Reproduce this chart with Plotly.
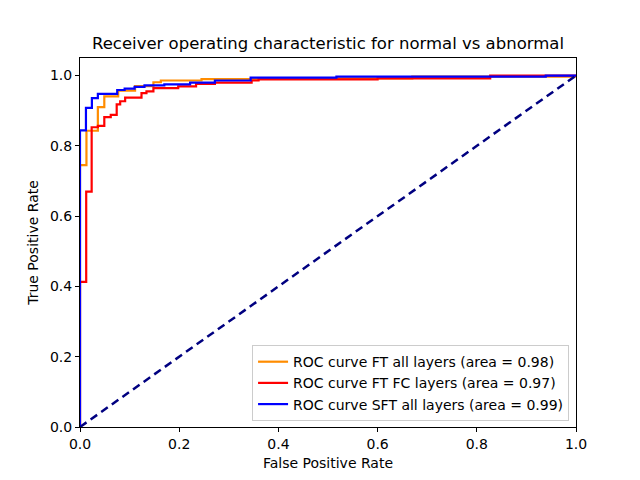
import plotly.graph_objects as go

# FT all layers (orange)
fpr_ft_all = [0, 0, 0.013, 0.036, 0.049, 0.077, 0.111, 0.148, 0.163, 0.245, 0.36, 0.67, 1.0]
tpr_ft_all = [0, 0.745, 0.843, 0.910, 0.941, 0.957, 0.970, 0.981, 0.986, 0.990, 0.992, 0.997, 1.0]

# FT FC layers (red)
fpr_ft_fc = [0, 0, 0.0125, 0.0235, 0.036, 0.049, 0.062, 0.074, 0.081, 0.091, 0.124, 0.134,
             0.148, 0.198, 0.234, 0.272, 0.346, 0.36, 0.6, 0.827, 1.0]
tpr_ft_fc = [0, 0.413, 0.670, 0.853, 0.857, 0.882, 0.888, 0.918, 0.927, 0.937, 0.950, 0.955,
             0.964, 0.969, 0.976, 0.980, 0.986, 0.989, 0.992, 1.0, 1.0]

# SFT all layers (blue)
fpr_sft = [0, 0, 0.012, 0.024, 0.036, 0.075, 0.09, 0.11, 0.13, 0.17, 0.222, 0.272, 0.344, 0.517, 0.939, 1.0]
tpr_sft = [0, 0.844, 0.908, 0.936, 0.948, 0.959, 0.963, 0.968, 0.972, 0.975, 0.980, 0.986, 0.994, 0.997, 1.0, 1.0]

diag = [0, 1]

series = [
    ("ROC curve FT all layers (area = 0.98)", fpr_ft_all, tpr_ft_all, "darkorange"),
    ("ROC curve FT FC layers (area = 0.97)", fpr_ft_fc, tpr_ft_fc, "red"),
    ("ROC curve SFT all layers (area = 0.99)", fpr_sft, tpr_sft, "blue"),
]

fig = go.Figure()
for name, xs, ys, col in series:
    fig.add_trace(go.Scatter(x=xs, y=ys, mode="lines", name=name,
                             line=dict(color=col, width=2.2, shape="hv")))
fig.add_trace(go.Scatter(x=diag, y=diag, mode="lines", showlegend=False,
                         line=dict(color="navy", width=2.5, dash="8px,5px")))

font = "DejaVu Sans"
axis_common = dict(showgrid=False, zeroline=False, showline=True, linecolor="black",
                   linewidth=1, mirror=True, ticks="outside", ticklen=4, tickcolor="black",
                   tickfont=dict(family=font, size=14, color="black"))

fig.update_layout(
    width=640, height=480,
    margin=dict(l=72, r=72, t=50, b=61),
    paper_bgcolor="white", plot_bgcolor="white",
    font=dict(family=font, color="black"),
    title=dict(text="Receiver operating characteristic for normal vs abnormal",
               x=0.5, xref="paper", y=1 - 35 / 480, yref="container", yanchor="middle",
               xanchor="center", font=dict(family=font, size=16.5, color="black")),
    xaxis=dict(range=[0, 1], tickvals=[0, 0.2, 0.4, 0.6, 0.8, 1.0],
               ticktext=["0.0", "0.2", "0.4", "0.6", "0.8", "1.0"],
               title=dict(text="False Positive Rate", font=dict(family=font, size=14), standoff=7),
               **axis_common),
    yaxis=dict(range=[0, 1.05], tickvals=[0, 0.2, 0.4, 0.6, 0.8, 1.0],
               ticktext=["0.0", "0.2", "0.4", "0.6", "0.8", "1.0"],
               title=dict(text="True Positive Rate", font=dict(family=font, size=14), standoff=8),
               **axis_common),
    legend=dict(x=0.986, y=0.016, xanchor="right", yanchor="bottom",
                bgcolor="rgba(255,255,255,0.8)", bordercolor="#cccccc", borderwidth=1,
                font=dict(family=font, size=14, color="black"), tracegroupgap=0,
                itemwidth=30),
    showlegend=True,
)

fig.write_html("out.html")
